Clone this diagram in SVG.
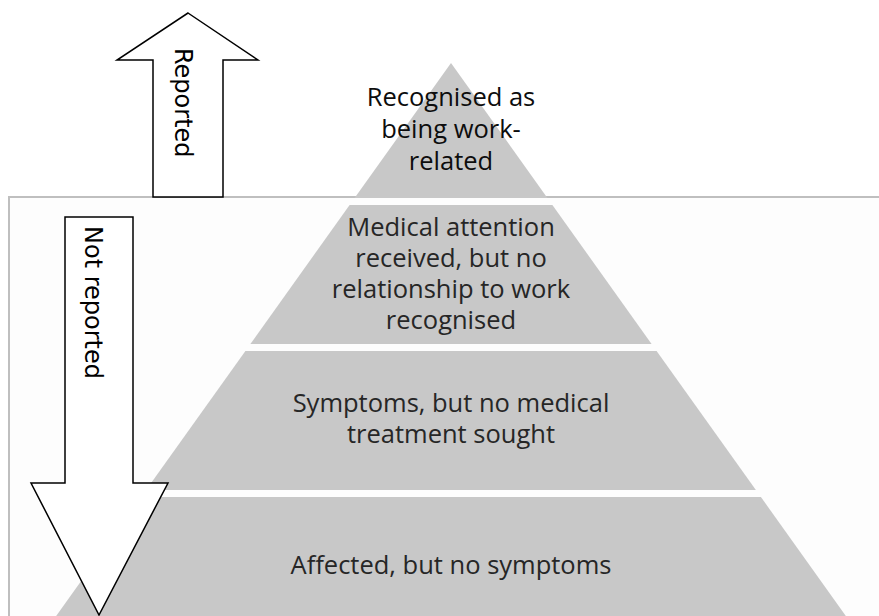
<svg xmlns="http://www.w3.org/2000/svg" width="879" height="616" viewBox="0 0 879 616">
  <style>
    .band { fill: #c8c8c8; }
    .lbl { font-family: "Open Sans", "Liberation Sans", sans-serif; font-size: 25.5px; fill: #262626; text-anchor: middle; }
    .top { fill: #0d0d0d; }
    .arrow { fill: #ffffff; stroke: #000000; stroke-width: 1.5; stroke-linejoin: miter; }
    .alabel { font-family: "DejaVu Sans", sans-serif; font-size: 24px; fill: #000000; }
  </style>
  <rect width="879" height="616" fill="#ffffff"/>
  <g id="frame">
    <rect x="9" y="197" width="890" height="440" fill="#fdfdfd" stroke="#bfbfbf" stroke-width="2"/>
  </g>
  <g id="level-1">
    <polygon class="band" points="451,63 547.4,198 354.6,198"/>
    <text class="lbl top" x="451" y="106">Recognised as</text>
    <text class="lbl top" x="451" y="138">being work-</text>
    <text class="lbl top" x="451" y="170">related</text>
  </g>
  <g id="level-2">
    <polygon class="band" points="349.6,205 552.4,205 651.6,344 250.4,344"/>
    <text class="lbl" x="451" y="235.5">Medical attention</text>
    <text class="lbl" x="451" y="266.5">received, but no</text>
    <text class="lbl" x="451" y="297.5">relationship to work</text>
    <text class="lbl" x="451" y="328.5">recognised</text>
  </g>
  <g id="level-3">
    <polygon class="band" points="245.4,351 656.6,351 755.9,490 146.1,490"/>
    <text class="lbl" x="451" y="412">Symptoms, but no medical</text>
    <text class="lbl" x="451" y="443">treatment sought</text>
  </g>
  <g id="level-4">
    <polygon class="band" points="141.1,497 760.9,497 848.7,620 53.3,620"/>
    <text class="lbl" x="451" y="574">Affected, but no symptoms</text>
  </g>
  <g id="arrow-reported">
    <polygon class="arrow" points="188,13 258,60 223,60 223,197 153,197 153,60 117,60"/>
    <text class="alabel" transform="translate(175,48) rotate(90)">Reported</text>
  </g>
  <g id="arrow-not-reported">
    <polygon class="arrow" points="65,217 133,217 133,483 168,483 99,615 31,483 65,483"/>
    <text class="alabel" transform="translate(85,226) rotate(90)">Not reported</text>
  </g>
  <g id="connectors"/>
</svg>
